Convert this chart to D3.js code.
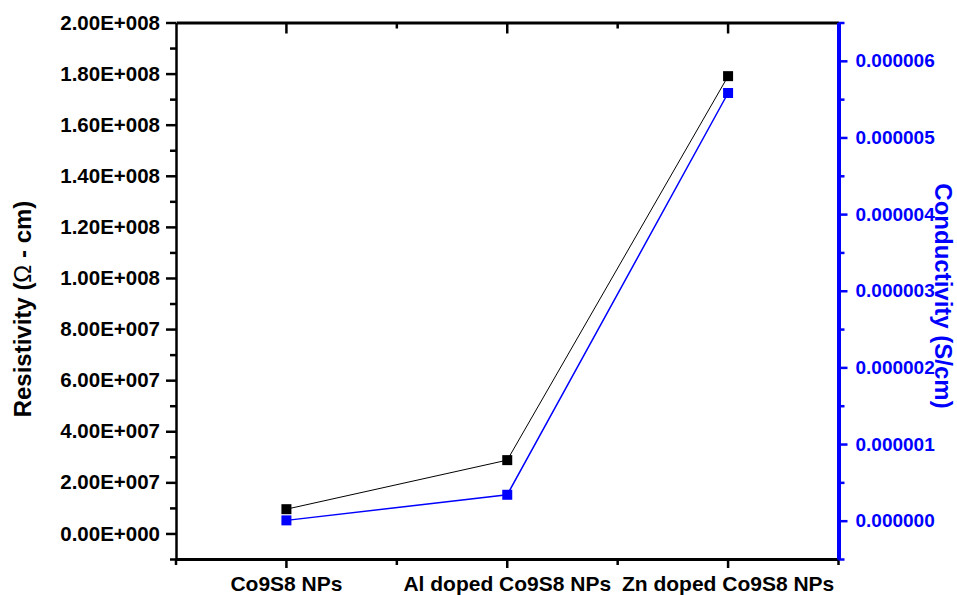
<!DOCTYPE html>
<html lang="en">
<head>
<meta charset="utf-8">
<title>Resistivity and conductivity</title>
<script src="https://d3js.org/d3.v7.min.js"></script>
<style>
	body { margin: 0; background: #fff; }
	svg text { font-family: "Liberation Sans", Arial, sans-serif; font-weight: bold; }
</style>
</head>
<body>
<div id="chart"></div>
<script type="text/javascript">
	// data
	var categories = ["Co9S8 NPs", "Al doped Co9S8 NPs", "Zn doped Co9S8 NPs"];
	var resistivity = [9.5e6, 2.87e7, 1.79e8];
	var conductivity = [0.000000004, 0.000000338, 0.00000558];
	var leftTicks = [0, 2e7, 4e7, 6e7, 8e7, 1e8, 1.2e8, 1.4e8, 1.6e8, 1.8e8, 2e8];
	var leftMinor = [-1e7, 1e7, 3e7, 5e7, 7e7, 9e7, 1.1e8, 1.3e8, 1.5e8, 1.7e8, 1.9e8];
	var rightTicks = [0, 1e-6, 2e-6, 3e-6, 4e-6, 5e-6, 6e-6];
	var rightMinor = [-0.5e-6, 0.5e-6, 1.5e-6, 2.5e-6, 3.5e-6, 4.5e-6, 5.5e-6, 6.5e-6];

	var w = 957, h = 595;
	var margin = { top: 22.5, right: 118.5, bottom: 36, left: 176 };
	var width = w - margin.left - margin.right, height = h - margin.top - margin.bottom;
	var blue = "#0000ff";

	var svg = d3.select("#chart")
		.append("svg")
		.attr("width", w)
		.attr("height", h)
		.append("g")
		.attr("transform", `translate(${margin.left},${margin.top})`);

	// scales
	var x = d3.scaleBand().domain(categories).range([0, width]).padding(0);
	var xc = d => x(d) + x.bandwidth() / 2;
	var edges = categories.map(d => x(d)).concat([width]);
	var yL = d3.scaleLinear().domain([-1e7, 2e8]).range([height, 0]);
	var yR = d3.scaleLinear().domain([-0.5e-6, 6.5e-6]).range([height, 0]);

	function fmtE(v) {
		if (Math.abs(v) < 1) return "0.00E+000";
		var e = Math.floor(Math.log10(v) + 1e-9);
		var m = v / Math.pow(10, e);
		return m.toFixed(2) + "E+" + String(e).padStart(3, "0");
	}

	function styleAxis(g, color, lw, fs) {
		g.select(".domain").attr("stroke", color).attr("stroke-width", lw);
		g.selectAll(".tick line").attr("stroke", color).attr("stroke-width", 2.5);
		g.selectAll(".tick text").attr("fill", color).style("font-size", fs + "px");
	}

	// left axis
	svg.append("g")
		.call(d3.axisLeft(yL).tickValues(leftMinor).tickSize(6).tickSizeOuter(0).tickFormat(""))
		.call(g => g.select(".domain").remove())
		.call(g => styleAxis(g, "#000", 2.5, 20));
	svg.append("g")
		.call(d3.axisLeft(yL).tickValues(leftTicks).tickSize(10).tickSizeOuter(0).tickPadding(6).tickFormat(fmtE))
		.call(g => styleAxis(g, "#000", 2.5, 20.5));

	// top axis, ticks pointing inwards
	svg.append("g")
		.call(d3.axisBottom(x).tickSize(11).tickSizeOuter(0).tickFormat(""))
		.call(g => styleAxis(g, "#000", 3, 20));
	svg.append("g")
		.selectAll("line")
		.data(edges.slice(1, 3))
		.join("line")
		.attr("x1", d => d).attr("x2", d => d)
		.attr("y1", 0).attr("y2", 6)
		.attr("stroke", "#000").attr("stroke-width", 2.5);

	// bottom axis
	svg.append("g")
		.attr("transform", `translate(0,${height})`)
		.call(d3.axisBottom(x).tickSize(9).tickSizeOuter(0).tickPadding(8))
		.call(g => styleAxis(g, "#000", 3, 21));
	svg.append("g")
		.attr("transform", `translate(0,${height})`)
		.selectAll("line")
		.data(edges)
		.join("line")
		.attr("x1", d => d).attr("x2", d => d)
		.attr("y1", 0).attr("y2", 6)
		.attr("stroke", "#000").attr("stroke-width", 2.5);

	// right axis (conductivity)
	svg.append("g")
		.attr("transform", `translate(${width},0)`)
		.call(d3.axisRight(yR).tickValues(rightMinor).tickSize(6).tickSizeOuter(0).tickFormat(""))
		.call(g => g.select(".domain").remove())
		.call(g => styleAxis(g, blue, 4, 19));
	svg.append("g")
		.attr("transform", `translate(${width},0)`)
		.call(d3.axisRight(yR).tickValues(rightTicks).tickSize(9).tickSizeOuter(0).tickPadding(8).tickFormat(d => d.toFixed(6)))
		.call(g => styleAxis(g, blue, 4, 19));

	// series
	var resData = categories.map((c, i) => ({ c: c, v: resistivity[i] }));
	var conData = categories.map((c, i) => ({ c: c, v: conductivity[i] }));

	svg.append("path")
		.datum(resData)
		.attr("fill", "none")
		.attr("stroke", "#000")
		.attr("stroke-width", 1)
		.attr("d", d3.line().x(d => xc(d.c)).y(d => yL(d.v)));
	svg.append("path")
		.datum(conData)
		.attr("fill", "none")
		.attr("stroke", blue)
		.attr("stroke-width", 1.5)
		.attr("d", d3.line().x(d => xc(d.c)).y(d => yR(d.v)));

	var ms = 10;
	svg.append("g")
		.selectAll("rect")
		.data(resData)
		.join("rect")
		.attr("x", d => xc(d.c) - ms / 2)
		.attr("y", d => yL(d.v) - ms / 2)
		.attr("width", ms).attr("height", ms)
		.attr("fill", "#000");
	svg.append("g")
		.selectAll("rect")
		.data(conData)
		.join("rect")
		.attr("x", d => xc(d.c) - ms / 2)
		.attr("y", d => yR(d.v) - ms / 2)
		.attr("width", ms).attr("height", ms)
		.attr("fill", blue);

	// axis titles
	var left = svg.append("text")
		.attr("transform", `translate(${31 - margin.left},${309 - margin.top}) rotate(-90)`)
		.attr("text-anchor", "middle")
		.style("font-size", "24px")
		.attr("fill", "#000");
	left.append("tspan").text("Resistivity (");
	left.append("tspan").style("font-weight", "normal").text("\u03A9");
	left.append("tspan").text(" - cm)");

	svg.append("text")
		.attr("transform", `translate(${934.5 - margin.left},${296 - margin.top}) rotate(90)`)
		.attr("text-anchor", "middle")
		.style("font-size", "24px")
		.attr("fill", blue)
		.text("Conductivity (S/cm)");
</script>
</body>
</html>
